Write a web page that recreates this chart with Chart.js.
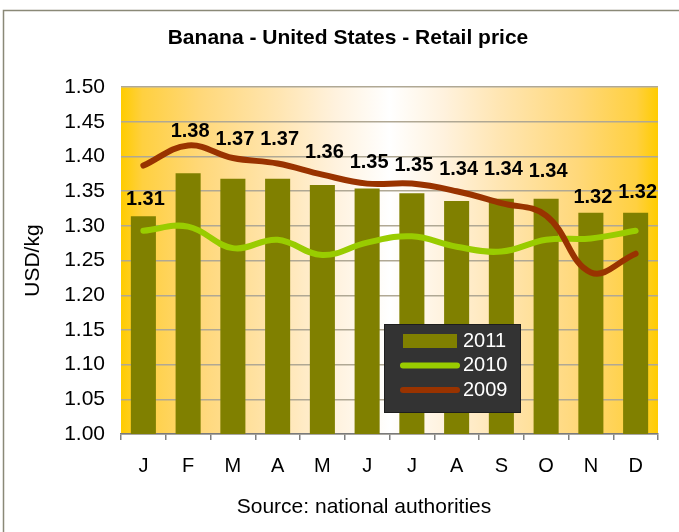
<!DOCTYPE html>
<html><head><meta charset="utf-8">
<script src="https://cdn.jsdelivr.net/npm/chart.js@4/dist/chart.umd.min.js"></script>
<style>html,body{margin:0;padding:0;background:#fff}canvas{display:block}</style>
</head><body>
<canvas id="c" width="679" height="532"></canvas>
<script>
// ---- data ----
const months = ['J','F','M','A','M','J','J','A','S','O','N','D'];
const price2011 = [1.314,1.376,1.368,1.368,1.359,1.354,1.347,1.336,1.339,1.339,1.319,1.319];
const price2010 = [1.293,1.299,1.268,1.280,1.258,1.276,1.285,1.270,1.263,1.280,1.282,1.293];
const price2009 = [1.387,1.416,1.398,1.390,1.374,1.361,1.361,1.350,1.333,1.315,1.233,1.260];
const yTickValues = [1.00,1.05,1.10,1.15,1.20,1.25,1.30,1.35,1.40,1.45,1.50];

const FONT = "'Liberation Sans', Arial, sans-serif";

const framePlugin = {
  id: 'frame',
  beforeDraw(chart) {
    const {ctx, chartArea: a} = chart;
    ctx.save();
    ctx.fillStyle = '#ffffff';
    ctx.fillRect(0, 0, chart.width, chart.height);
    ctx.strokeStyle = '#8a8977';
    ctx.lineWidth = 1.5;
    ctx.beginPath();
    ctx.moveTo(3.5, chart.height);
    ctx.lineTo(3.5, 10.5);
    ctx.lineTo(chart.width, 10.5);
    ctx.stroke();
    const g = ctx.createLinearGradient(a.left, 0, a.right, 0);
    const stops = [[0,'#FFCC00'],[0.04,'#FFD040'],[0.15,'#FFD87A'],[0.3,'#FFE6B4'],[0.4,'#FFF2DE'],[0.5,'#FFFFFF'],
                   [0.6,'#FFF2DE'],[0.7,'#FFE6B4'],[0.85,'#FFD87A'],[0.96,'#FFD040'],[1,'#FFCC00']];
    stops.forEach(s => g.addColorStop(s[0], s[1]));
    ctx.fillStyle = g;
    ctx.fillRect(a.left, a.top, a.right - a.left, a.bottom - a.top);
    ctx.restore();
  }
};

const barLabelPlugin = {
  id: 'barLabels',
  afterDatasetsDraw(chart, args, opts) {
    const {ctx} = chart;
    const meta = chart.getDatasetMeta(0);
    const data = chart.data.datasets[0].data;
    ctx.save();
    ctx.font = 'bold 20px ' + FONT;
    ctx.fillStyle = '#000';
    ctx.textAlign = 'center';
    ctx.textBaseline = 'middle';
    meta.data.forEach((bar, i) => {
      ctx.fillText(data[i].toFixed(2), bar.x + 2, bar.y - opts.lift[i]);
    });
    ctx.restore();
  }
};

const boxLegendPlugin = {
  id: 'boxLegend',
  afterDraw(chart, args, opts) {
    const {ctx} = chart;
    const x0 = opts.x, y0 = opts.y, w = opts.w, h = opts.h;
    ctx.save();
    ctx.fillStyle = '#333333';
    ctx.fillRect(x0, y0, w, h);
    ctx.strokeStyle = '#1e1e1e';
    ctx.lineWidth = 1;
    ctx.strokeRect(x0 + 0.5, y0 + 0.5, w - 1, h - 1);
    ctx.font = '20px ' + FONT;
    ctx.textBaseline = 'middle';
    ctx.textAlign = 'left';
    chart.data.datasets.forEach((ds, i) => {
      const cy = y0 + 17 + i * 24.5;
      if (ds.type === 'bar') {
        ctx.fillStyle = ds.backgroundColor;
        ctx.fillRect(x0 + 19, cy - 7, 54, 14);
      } else {
        ctx.strokeStyle = ds.borderColor;
        ctx.lineWidth = 6;
        ctx.lineCap = 'round';
        ctx.beginPath();
        ctx.moveTo(x0 + 19, cy);
        ctx.lineTo(x0 + 73, cy);
        ctx.stroke();
      }
      ctx.fillStyle = '#ffffff';
      ctx.fillText(ds.label, x0 + 79, cy);
    });
    ctx.restore();
  }
};

const sourcePlugin = {
  id: 'sourceText',
  afterDraw(chart, args, opts) {
    const {ctx} = chart;
    ctx.save();
    ctx.font = '21px ' + FONT;
    ctx.fillStyle = '#000';
    ctx.textAlign = 'center';
    ctx.textBaseline = 'middle';
    ctx.fillText(opts.text, opts.x, opts.y);
    ctx.restore();
  }
};

new Chart(document.getElementById('c'), {
  data: {
    labels: months,
    datasets: [
      { type: 'bar', label: '2011', data: price2011, backgroundColor: '#808000', borderWidth: 0,
        barPercentage: 0.56, categoryPercentage: 1.0, order: 3 },
      { type: 'line', label: '2010', data: price2010, borderColor: '#99CC00', backgroundColor: '#99CC00',
        borderWidth: 6, pointRadius: 0, tension: 0.4, fill: false, order: 2, borderCapStyle: 'round' },
      { type: 'line', label: '2009', data: price2009, borderColor: '#993300', backgroundColor: '#993300',
        borderWidth: 6, pointRadius: 0, tension: 0.4, fill: false, order: 1, borderCapStyle: 'round' }
    ]
  },
  options: {
    responsive: false,
    animation: false,
    devicePixelRatio: 1,
    layout: { padding: { left: 38, right: 21, top: 0, bottom: 0 } },
    plugins: {
      legend: { display: false },
      tooltip: { enabled: false },
      title: {
        display: true,
        text: 'Banana - United States - Retail price',
        color: '#000',
        font: { family: FONT, size: 21, weight: 'bold', lineHeight: 1.2 },
        padding: { top: 26, bottom: 36 }
      },
      barLabels: { lift: [17, 42, 39, 39, 33, 26, 28, 31, 29, 27, 15, 20] },
      boxLegend: { x: 384, y: 324, w: 137, h: 89 },
      sourceText: { text: 'Source: national authorities', x: 364, y: 507 }
    },
    scales: {
      x: {
        offset: true,
        grid: { display: true, drawOnChartArea: false, drawTicks: true, tickLength: 6, color: '#808080', lineWidth: 1.5, offset: true },
        border: { display: true, color: '#7a7a7a', width: 1.5 },
        ticks: { color: '#000', font: { family: FONT, size: 20 }, padding: 14, maxRotation: 0 },
        afterFit(scale) { scale.height = 98; }
      },
      y: {
        min: 1.0, max: 1.5,
        afterBuildTicks(scale) { scale.ticks = yTickValues.map(v => ({ value: v })); },
        grid: { color: '#b0a894', lineWidth: 1.5, drawTicks: false },
        border: { display: false },
        ticks: { color: '#000', font: { family: FONT, size: 21 }, padding: 16,
                 callback: (v) => Number(v).toFixed(2) },
        title: { display: true, text: 'USD/kg', color: '#000', font: { family: FONT, size: 21 },
                 padding: { top: -17.6, bottom: 0 } },
        afterFit(scale) { scale.width = 83; }
      }
    }
  },
  plugins: [framePlugin, barLabelPlugin, boxLegendPlugin, sourcePlugin]
});
</script>
</body></html>
